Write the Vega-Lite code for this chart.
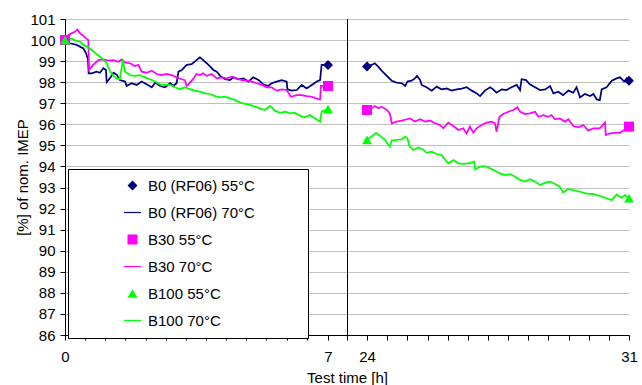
{
"$schema": "https://vega.github.io/schema/vega-lite/v6.json",
"width": 564, "height": 316,
"autosize": {"type": "none"},
"padding": {"left": 65, "top": 19, "right": 13, "bottom": 50},
"background": "white",
"config": {
  "font": "Liberation Sans",
  "view": {"stroke": null},
  "axis": {"labelColor": "black", "titleColor": "black", "domainColor": "black", "tickColor": "black", "labelFontSize": 15, "titleFontSize": 15, "titleFontWeight": "normal", "tickSize": 5, "domainWidth": 1, "tickWidth": 1}
},
"datasets": {
  "breaks": [{"t": 15.5, "v": 86, "v2": 101}],
  "markers": [
    {"series": "B0 (RF06) 55°C", "t": 0, "v": 100},
    {"series": "B0 (RF06) 55°C", "t": 7, "v": 98.82},
    {"series": "B0 (RF06) 55°C", "t": 24, "v": 98.74},
    {"series": "B0 (RF06) 55°C", "t": 31, "v": 98.07},
    {"series": "B30 55°C", "t": 0, "v": 100},
    {"series": "B30 55°C", "t": 7, "v": 97.82},
    {"series": "B30 55°C", "t": 24, "v": 96.68},
    {"series": "B30 55°C", "t": 31, "v": 95.89},
    {"series": "B100 55°C", "t": 0, "v": 100},
    {"series": "B100 55°C", "t": 7, "v": 96.72},
    {"series": "B100 55°C", "t": 24, "v": 95.26},
    {"series": "B100 55°C", "t": 31, "v": 92.49}
  ],
  "lines": [
    {"series":"B0 (RF06) 70°C","part":"a","t":0,"v":100},
    {"series":"B0 (RF06) 70°C","part":"a","t":0.13,"v":99.85},
    {"series":"B0 (RF06) 70°C","part":"a","t":0.31,"v":99.77},
    {"series":"B0 (RF06) 70°C","part":"a","t":0.49,"v":99.6},
    {"series":"B0 (RF06) 70°C","part":"a","t":0.56,"v":99.37},
    {"series":"B0 (RF06) 70°C","part":"a","t":0.61,"v":99.1},
    {"series":"B0 (RF06) 70°C","part":"a","t":0.63,"v":98.42},
    {"series":"B0 (RF06) 70°C","part":"a","t":0.71,"v":98.42},
    {"series":"B0 (RF06) 70°C","part":"a","t":0.84,"v":98.5},
    {"series":"B0 (RF06) 70°C","part":"a","t":0.93,"v":98.45},
    {"series":"B0 (RF06) 70°C","part":"a","t":1.02,"v":98.66},
    {"series":"B0 (RF06) 70°C","part":"a","t":1.09,"v":98.58},
    {"series":"B0 (RF06) 70°C","part":"a","t":1.11,"v":98.0},
    {"series":"B0 (RF06) 70°C","part":"a","t":1.2,"v":98.2},
    {"series":"B0 (RF06) 70°C","part":"a","t":1.29,"v":98.45},
    {"series":"B0 (RF06) 70°C","part":"a","t":1.38,"v":98.35},
    {"series":"B0 (RF06) 70°C","part":"a","t":1.46,"v":98.1},
    {"series":"B0 (RF06) 70°C","part":"a","t":1.6,"v":98.03},
    {"series":"B0 (RF06) 70°C","part":"a","t":1.64,"v":97.82},
    {"series":"B0 (RF06) 70°C","part":"a","t":1.77,"v":97.95},
    {"series":"B0 (RF06) 70°C","part":"a","t":1.91,"v":97.87},
    {"series":"B0 (RF06) 70°C","part":"a","t":2.04,"v":98.03},
    {"series":"B0 (RF06) 70°C","part":"a","t":2.17,"v":97.9},
    {"series":"B0 (RF06) 70°C","part":"a","t":2.31,"v":97.76},
    {"series":"B0 (RF06) 70°C","part":"a","t":2.4,"v":97.98},
    {"series":"B0 (RF06) 70°C","part":"a","t":2.53,"v":97.82},
    {"series":"B0 (RF06) 70°C","part":"a","t":2.66,"v":97.76},
    {"series":"B0 (RF06) 70°C","part":"a","t":2.8,"v":97.95},
    {"series":"B0 (RF06) 70°C","part":"a","t":2.88,"v":97.82},
    {"series":"B0 (RF06) 70°C","part":"a","t":2.97,"v":97.95},
    {"series":"B0 (RF06) 70°C","part":"a","t":3.02,"v":98.5},
    {"series":"B0 (RF06) 70°C","part":"a","t":3.11,"v":98.58},
    {"series":"B0 (RF06) 70°C","part":"a","t":3.24,"v":98.82},
    {"series":"B0 (RF06) 70°C","part":"a","t":3.37,"v":98.86},
    {"series":"B0 (RF06) 70°C","part":"a","t":3.5,"v":99.05},
    {"series":"B0 (RF06) 70°C","part":"a","t":3.59,"v":99.18},
    {"series":"B0 (RF06) 70°C","part":"a","t":3.68,"v":99.05},
    {"series":"B0 (RF06) 70°C","part":"a","t":3.82,"v":98.82},
    {"series":"B0 (RF06) 70°C","part":"a","t":3.95,"v":98.58},
    {"series":"B0 (RF06) 70°C","part":"a","t":4.04,"v":98.5},
    {"series":"B0 (RF06) 70°C","part":"a","t":4.13,"v":98.3},
    {"series":"B0 (RF06) 70°C","part":"a","t":4.26,"v":98.14},
    {"series":"B0 (RF06) 70°C","part":"a","t":4.39,"v":98.1},
    {"series":"B0 (RF06) 70°C","part":"a","t":4.48,"v":98.23},
    {"series":"B0 (RF06) 70°C","part":"a","t":4.61,"v":98.14},
    {"series":"B0 (RF06) 70°C","part":"a","t":4.75,"v":98.18},
    {"series":"B0 (RF06) 70°C","part":"a","t":4.88,"v":98.03},
    {"series":"B0 (RF06) 70°C","part":"a","t":5.01,"v":98.23},
    {"series":"B0 (RF06) 70°C","part":"a","t":5.15,"v":98.1},
    {"series":"B0 (RF06) 70°C","part":"a","t":5.28,"v":97.9},
    {"series":"B0 (RF06) 70°C","part":"a","t":5.41,"v":97.82},
    {"series":"B0 (RF06) 70°C","part":"a","t":5.5,"v":97.95},
    {"series":"B0 (RF06) 70°C","part":"a","t":5.63,"v":98.03},
    {"series":"B0 (RF06) 70°C","part":"a","t":5.77,"v":98.1},
    {"series":"B0 (RF06) 70°C","part":"a","t":5.9,"v":98.03},
    {"series":"B0 (RF06) 70°C","part":"a","t":5.92,"v":97.66},
    {"series":"B0 (RF06) 70°C","part":"a","t":6.03,"v":97.6},
    {"series":"B0 (RF06) 70°C","part":"a","t":6.17,"v":97.63},
    {"series":"B0 (RF06) 70°C","part":"a","t":6.3,"v":97.87},
    {"series":"B0 (RF06) 70°C","part":"a","t":6.43,"v":97.7},
    {"series":"B0 (RF06) 70°C","part":"a","t":6.57,"v":97.87},
    {"series":"B0 (RF06) 70°C","part":"a","t":6.7,"v":98.03},
    {"series":"B0 (RF06) 70°C","part":"a","t":6.79,"v":98.1},
    {"series":"B0 (RF06) 70°C","part":"a","t":6.83,"v":98.82},
    {"series":"B0 (RF06) 70°C","part":"a","t":7.0,"v":98.82},
    {"series":"B0 (RF06) 70°C","part":"b","t":24.0,"v":98.74},
    {"series":"B0 (RF06) 70°C","part":"b","t":24.12,"v":98.82},
    {"series":"B0 (RF06) 70°C","part":"b","t":24.21,"v":98.9},
    {"series":"B0 (RF06) 70°C","part":"b","t":24.3,"v":98.74},
    {"series":"B0 (RF06) 70°C","part":"b","t":24.39,"v":98.55},
    {"series":"B0 (RF06) 70°C","part":"b","t":24.53,"v":98.3},
    {"series":"B0 (RF06) 70°C","part":"b","t":24.66,"v":98.07},
    {"series":"B0 (RF06) 70°C","part":"b","t":24.79,"v":97.98},
    {"series":"B0 (RF06) 70°C","part":"b","t":24.93,"v":97.95},
    {"series":"B0 (RF06) 70°C","part":"b","t":25.02,"v":97.82},
    {"series":"B0 (RF06) 70°C","part":"b","t":25.08,"v":98.03},
    {"series":"B0 (RF06) 70°C","part":"b","t":25.19,"v":98.07},
    {"series":"B0 (RF06) 70°C","part":"b","t":25.28,"v":98.18},
    {"series":"B0 (RF06) 70°C","part":"b","t":25.34,"v":98.3},
    {"series":"B0 (RF06) 70°C","part":"b","t":25.42,"v":98.1},
    {"series":"B0 (RF06) 70°C","part":"b","t":25.46,"v":97.87},
    {"series":"B0 (RF06) 70°C","part":"b","t":25.59,"v":97.76},
    {"series":"B0 (RF06) 70°C","part":"b","t":25.73,"v":97.6},
    {"series":"B0 (RF06) 70°C","part":"b","t":25.86,"v":97.79},
    {"series":"B0 (RF06) 70°C","part":"b","t":25.99,"v":97.66},
    {"series":"B0 (RF06) 70°C","part":"b","t":26.13,"v":97.7},
    {"series":"B0 (RF06) 70°C","part":"b","t":26.26,"v":97.6},
    {"series":"B0 (RF06) 70°C","part":"b","t":26.4,"v":97.66},
    {"series":"B0 (RF06) 70°C","part":"b","t":26.53,"v":97.7},
    {"series":"B0 (RF06) 70°C","part":"b","t":26.66,"v":97.76},
    {"series":"B0 (RF06) 70°C","part":"b","t":26.8,"v":97.6},
    {"series":"B0 (RF06) 70°C","part":"b","t":26.93,"v":97.47},
    {"series":"B0 (RF06) 70°C","part":"b","t":27.02,"v":97.34},
    {"series":"B0 (RF06) 70°C","part":"b","t":27.15,"v":97.6},
    {"series":"B0 (RF06) 70°C","part":"b","t":27.29,"v":97.76},
    {"series":"B0 (RF06) 70°C","part":"b","t":27.37,"v":97.66},
    {"series":"B0 (RF06) 70°C","part":"b","t":27.46,"v":97.5},
    {"series":"B0 (RF06) 70°C","part":"b","t":27.6,"v":97.66},
    {"series":"B0 (RF06) 70°C","part":"b","t":27.73,"v":97.63},
    {"series":"B0 (RF06) 70°C","part":"b","t":27.86,"v":97.76},
    {"series":"B0 (RF06) 70°C","part":"b","t":28.0,"v":97.87},
    {"series":"B0 (RF06) 70°C","part":"b","t":28.09,"v":97.63},
    {"series":"B0 (RF06) 70°C","part":"b","t":28.13,"v":98.14},
    {"series":"B0 (RF06) 70°C","part":"b","t":28.25,"v":98.1},
    {"series":"B0 (RF06) 70°C","part":"b","t":28.35,"v":97.9},
    {"series":"B0 (RF06) 70°C","part":"b","t":28.49,"v":97.76},
    {"series":"B0 (RF06) 70°C","part":"b","t":28.62,"v":97.63},
    {"series":"B0 (RF06) 70°C","part":"b","t":28.76,"v":97.66},
    {"series":"B0 (RF06) 70°C","part":"b","t":28.89,"v":97.82},
    {"series":"B0 (RF06) 70°C","part":"b","t":28.98,"v":97.47},
    {"series":"B0 (RF06) 70°C","part":"b","t":29.11,"v":97.55},
    {"series":"B0 (RF06) 70°C","part":"b","t":29.24,"v":97.39},
    {"series":"B0 (RF06) 70°C","part":"b","t":29.38,"v":97.6},
    {"series":"B0 (RF06) 70°C","part":"b","t":29.51,"v":97.5},
    {"series":"B0 (RF06) 70°C","part":"b","t":29.6,"v":97.76},
    {"series":"B0 (RF06) 70°C","part":"b","t":29.69,"v":97.28},
    {"series":"B0 (RF06) 70°C","part":"b","t":29.82,"v":97.44},
    {"series":"B0 (RF06) 70°C","part":"b","t":29.96,"v":97.34},
    {"series":"B0 (RF06) 70°C","part":"b","t":30.05,"v":97.44},
    {"series":"B0 (RF06) 70°C","part":"b","t":30.14,"v":97.18},
    {"series":"B0 (RF06) 70°C","part":"b","t":30.22,"v":97.15},
    {"series":"B0 (RF06) 70°C","part":"b","t":30.27,"v":97.66},
    {"series":"B0 (RF06) 70°C","part":"b","t":30.4,"v":97.76},
    {"series":"B0 (RF06) 70°C","part":"b","t":30.54,"v":98.07},
    {"series":"B0 (RF06) 70°C","part":"b","t":30.67,"v":98.18},
    {"series":"B0 (RF06) 70°C","part":"b","t":30.76,"v":98.23},
    {"series":"B0 (RF06) 70°C","part":"b","t":30.87,"v":98.03},
    {"series":"B0 (RF06) 70°C","part":"b","t":30.94,"v":98.18},
    {"series":"B0 (RF06) 70°C","part":"b","t":31.0,"v":98.07},
    {"series":"B30 70°C","part":"a","t":0,"v":100},
    {"series":"B30 70°C","part":"a","t":0.09,"v":100.24},
    {"series":"B30 70°C","part":"a","t":0.18,"v":100.32},
    {"series":"B30 70°C","part":"a","t":0.27,"v":100.4},
    {"series":"B30 70°C","part":"a","t":0.33,"v":100.5},
    {"series":"B30 70°C","part":"a","t":0.4,"v":100.32},
    {"series":"B30 70°C","part":"a","t":0.49,"v":100.2},
    {"series":"B30 70°C","part":"a","t":0.56,"v":100.08},
    {"series":"B30 70°C","part":"a","t":0.62,"v":100.0},
    {"series":"B30 70°C","part":"a","t":0.64,"v":98.58},
    {"series":"B30 70°C","part":"a","t":0.75,"v":98.82},
    {"series":"B30 70°C","part":"a","t":0.89,"v":99.05},
    {"series":"B30 70°C","part":"a","t":1.02,"v":99.08},
    {"series":"B30 70°C","part":"a","t":1.15,"v":99.02},
    {"series":"B30 70°C","part":"a","t":1.29,"v":99.05},
    {"series":"B30 70°C","part":"a","t":1.42,"v":98.97},
    {"series":"B30 70°C","part":"a","t":1.51,"v":99.08},
    {"series":"B30 70°C","part":"a","t":1.6,"v":98.93},
    {"series":"B30 70°C","part":"a","t":1.73,"v":98.9},
    {"series":"B30 70°C","part":"a","t":1.86,"v":98.77},
    {"series":"B30 70°C","part":"a","t":1.95,"v":98.82},
    {"series":"B30 70°C","part":"a","t":2.04,"v":98.5},
    {"series":"B30 70°C","part":"a","t":2.17,"v":98.45},
    {"series":"B30 70°C","part":"a","t":2.31,"v":98.55},
    {"series":"B30 70°C","part":"a","t":2.44,"v":98.39},
    {"series":"B30 70°C","part":"a","t":2.57,"v":98.34},
    {"series":"B30 70°C","part":"a","t":2.71,"v":98.39},
    {"series":"B30 70°C","part":"a","t":2.84,"v":98.34},
    {"series":"B30 70°C","part":"a","t":2.97,"v":98.23},
    {"series":"B30 70°C","part":"a","t":3.11,"v":98.14},
    {"series":"B30 70°C","part":"a","t":3.19,"v":98.1},
    {"series":"B30 70°C","part":"a","t":3.24,"v":97.82},
    {"series":"B30 70°C","part":"a","t":3.33,"v":97.98},
    {"series":"B30 70°C","part":"a","t":3.42,"v":98.18},
    {"series":"B30 70°C","part":"a","t":3.5,"v":98.39},
    {"series":"B30 70°C","part":"a","t":3.59,"v":98.34},
    {"series":"B30 70°C","part":"a","t":3.68,"v":98.42},
    {"series":"B30 70°C","part":"a","t":3.77,"v":98.3},
    {"series":"B30 70°C","part":"a","t":3.9,"v":98.39},
    {"series":"B30 70°C","part":"a","t":4.04,"v":98.18},
    {"series":"B30 70°C","part":"a","t":4.17,"v":98.23},
    {"series":"B30 70°C","part":"a","t":4.3,"v":98.18},
    {"series":"B30 70°C","part":"a","t":4.44,"v":98.26},
    {"series":"B30 70°C","part":"a","t":4.57,"v":98.18},
    {"series":"B30 70°C","part":"a","t":4.7,"v":98.1},
    {"series":"B30 70°C","part":"a","t":4.84,"v":98.07},
    {"series":"B30 70°C","part":"a","t":4.97,"v":98.03},
    {"series":"B30 70°C","part":"a","t":5.1,"v":97.95},
    {"series":"B30 70°C","part":"a","t":5.24,"v":97.87},
    {"series":"B30 70°C","part":"a","t":5.37,"v":97.76},
    {"series":"B30 70°C","part":"a","t":5.5,"v":97.76},
    {"series":"B30 70°C","part":"a","t":5.63,"v":97.6},
    {"series":"B30 70°C","part":"a","t":5.77,"v":97.66},
    {"series":"B30 70°C","part":"a","t":5.9,"v":97.63},
    {"series":"B30 70°C","part":"a","t":6.01,"v":97.31},
    {"series":"B30 70°C","part":"a","t":6.17,"v":97.39},
    {"series":"B30 70°C","part":"a","t":6.3,"v":97.39},
    {"series":"B30 70°C","part":"a","t":6.43,"v":97.34},
    {"series":"B30 70°C","part":"a","t":6.57,"v":97.31},
    {"series":"B30 70°C","part":"a","t":6.68,"v":97.23},
    {"series":"B30 70°C","part":"a","t":6.79,"v":97.18},
    {"series":"B30 70°C","part":"a","t":6.81,"v":97.82},
    {"series":"B30 70°C","part":"a","t":7.0,"v":97.82},
    {"series":"B30 70°C","part":"b","t":24.0,"v":96.68},
    {"series":"B30 70°C","part":"b","t":24.12,"v":96.76},
    {"series":"B30 70°C","part":"b","t":24.21,"v":96.87},
    {"series":"B30 70°C","part":"b","t":24.3,"v":96.76},
    {"series":"B30 70°C","part":"b","t":24.39,"v":96.84},
    {"series":"B30 70°C","part":"b","t":24.53,"v":96.68},
    {"series":"B30 70°C","part":"b","t":24.61,"v":96.52},
    {"series":"B30 70°C","part":"b","t":24.66,"v":96.05},
    {"series":"B30 70°C","part":"b","t":24.79,"v":96.13},
    {"series":"B30 70°C","part":"b","t":24.93,"v":96.18},
    {"series":"B30 70°C","part":"b","t":25.06,"v":96.24},
    {"series":"B30 70°C","part":"b","t":25.15,"v":96.28},
    {"series":"B30 70°C","part":"b","t":25.28,"v":96.13},
    {"series":"B30 70°C","part":"b","t":25.42,"v":96.24},
    {"series":"B30 70°C","part":"b","t":25.55,"v":96.13},
    {"series":"B30 70°C","part":"b","t":25.68,"v":96.18},
    {"series":"B30 70°C","part":"b","t":25.82,"v":96.05},
    {"series":"B30 70°C","part":"b","t":25.95,"v":95.97},
    {"series":"B30 70°C","part":"b","t":26.04,"v":95.81},
    {"series":"B30 70°C","part":"b","t":26.17,"v":96.08},
    {"series":"B30 70°C","part":"b","t":26.31,"v":95.92},
    {"series":"B30 70°C","part":"b","t":26.44,"v":95.73},
    {"series":"B30 70°C","part":"b","t":26.57,"v":95.81},
    {"series":"B30 70°C","part":"b","t":26.66,"v":95.57},
    {"series":"B30 70°C","part":"b","t":26.75,"v":95.89},
    {"series":"B30 70°C","part":"b","t":26.84,"v":95.6},
    {"series":"B30 70°C","part":"b","t":26.93,"v":95.81},
    {"series":"B30 70°C","part":"b","t":27.06,"v":95.97},
    {"series":"B30 70°C","part":"b","t":27.2,"v":96.08},
    {"series":"B30 70°C","part":"b","t":27.33,"v":96.13},
    {"series":"B30 70°C","part":"b","t":27.42,"v":96.05},
    {"series":"B30 70°C","part":"b","t":27.46,"v":95.65},
    {"series":"B30 70°C","part":"b","t":27.54,"v":96.36},
    {"series":"B30 70°C","part":"b","t":27.64,"v":96.49},
    {"series":"B30 70°C","part":"b","t":27.78,"v":96.6},
    {"series":"B30 70°C","part":"b","t":27.91,"v":96.68},
    {"series":"B30 70°C","part":"b","t":28.02,"v":96.81},
    {"series":"B30 70°C","part":"b","t":28.09,"v":96.6},
    {"series":"B30 70°C","part":"b","t":28.22,"v":96.49},
    {"series":"B30 70°C","part":"b","t":28.35,"v":96.52},
    {"series":"B30 70°C","part":"b","t":28.49,"v":96.6},
    {"series":"B30 70°C","part":"b","t":28.58,"v":96.36},
    {"series":"B30 70°C","part":"b","t":28.71,"v":96.44},
    {"series":"B30 70°C","part":"b","t":28.84,"v":96.36},
    {"series":"B30 70°C","part":"b","t":28.93,"v":96.44},
    {"series":"B30 70°C","part":"b","t":29.02,"v":96.24},
    {"series":"B30 70°C","part":"b","t":29.15,"v":96.28},
    {"series":"B30 70°C","part":"b","t":29.29,"v":96.13},
    {"series":"B30 70°C","part":"b","t":29.38,"v":96.24},
    {"series":"B30 70°C","part":"b","t":29.51,"v":95.92},
    {"series":"B30 70°C","part":"b","t":29.65,"v":95.86},
    {"series":"B30 70°C","part":"b","t":29.78,"v":95.97},
    {"series":"B30 70°C","part":"b","t":29.91,"v":95.7},
    {"series":"B30 70°C","part":"b","t":30.05,"v":95.81},
    {"series":"B30 70°C","part":"b","t":30.22,"v":95.81},
    {"series":"B30 70°C","part":"b","t":30.36,"v":96.08},
    {"series":"B30 70°C","part":"b","t":30.38,"v":95.49},
    {"series":"B30 70°C","part":"b","t":30.49,"v":95.57},
    {"series":"B30 70°C","part":"b","t":30.62,"v":95.6},
    {"series":"B30 70°C","part":"b","t":30.76,"v":95.6},
    {"series":"B30 70°C","part":"b","t":30.87,"v":95.73},
    {"series":"B30 70°C","part":"b","t":31.0,"v":95.89},
    {"series":"B100 70°C","part":"a","t":0,"v":100},
    {"series":"B100 70°C","part":"a","t":0.09,"v":100.03},
    {"series":"B100 70°C","part":"a","t":0.18,"v":100.08},
    {"series":"B100 70°C","part":"a","t":0.29,"v":99.97},
    {"series":"B100 70°C","part":"a","t":0.4,"v":99.92},
    {"series":"B100 70°C","part":"a","t":0.49,"v":99.77},
    {"series":"B100 70°C","part":"a","t":0.59,"v":99.69},
    {"series":"B100 70°C","part":"a","t":0.71,"v":99.53},
    {"series":"B100 70°C","part":"a","t":0.84,"v":99.34},
    {"series":"B100 70°C","part":"a","t":0.98,"v":99.13},
    {"series":"B100 70°C","part":"a","t":1.11,"v":98.9},
    {"series":"B100 70°C","part":"a","t":1.2,"v":98.5},
    {"series":"B100 70°C","part":"a","t":1.29,"v":98.3},
    {"series":"B100 70°C","part":"a","t":1.38,"v":98.18},
    {"series":"B100 70°C","part":"a","t":1.46,"v":98.14},
    {"series":"B100 70°C","part":"a","t":1.54,"v":99.05},
    {"series":"B100 70°C","part":"a","t":1.6,"v":98.5},
    {"series":"B100 70°C","part":"a","t":1.73,"v":98.34},
    {"series":"B100 70°C","part":"a","t":1.86,"v":98.3},
    {"series":"B100 70°C","part":"a","t":2.0,"v":98.34},
    {"series":"B100 70°C","part":"a","t":2.13,"v":98.23},
    {"series":"B100 70°C","part":"a","t":2.26,"v":98.14},
    {"series":"B100 70°C","part":"a","t":2.4,"v":98.03},
    {"series":"B100 70°C","part":"a","t":2.53,"v":97.9},
    {"series":"B100 70°C","part":"a","t":2.66,"v":97.87},
    {"series":"B100 70°C","part":"a","t":2.8,"v":97.87},
    {"series":"B100 70°C","part":"a","t":2.93,"v":97.76},
    {"series":"B100 70°C","part":"a","t":3.06,"v":97.66},
    {"series":"B100 70°C","part":"a","t":3.19,"v":97.76},
    {"series":"B100 70°C","part":"a","t":3.33,"v":97.66},
    {"series":"B100 70°C","part":"a","t":3.46,"v":97.6},
    {"series":"B100 70°C","part":"a","t":3.59,"v":97.55},
    {"series":"B100 70°C","part":"a","t":3.73,"v":97.47},
    {"series":"B100 70°C","part":"a","t":3.86,"v":97.44},
    {"series":"B100 70°C","part":"a","t":3.99,"v":97.34},
    {"series":"B100 70°C","part":"a","t":4.13,"v":97.28},
    {"series":"B100 70°C","part":"a","t":4.26,"v":97.31},
    {"series":"B100 70°C","part":"a","t":4.39,"v":97.23},
    {"series":"B100 70°C","part":"a","t":4.53,"v":97.15},
    {"series":"B100 70°C","part":"a","t":4.66,"v":97.03},
    {"series":"B100 70°C","part":"a","t":4.79,"v":96.97},
    {"series":"B100 70°C","part":"a","t":4.92,"v":96.92},
    {"series":"B100 70°C","part":"a","t":5.06,"v":96.84},
    {"series":"B100 70°C","part":"a","t":5.19,"v":96.76},
    {"series":"B100 70°C","part":"a","t":5.32,"v":96.68},
    {"series":"B100 70°C","part":"a","t":5.46,"v":96.87},
    {"series":"B100 70°C","part":"a","t":5.59,"v":96.65},
    {"series":"B100 70°C","part":"a","t":5.72,"v":96.55},
    {"series":"B100 70°C","part":"a","t":5.86,"v":96.6},
    {"series":"B100 70°C","part":"a","t":5.99,"v":96.52},
    {"series":"B100 70°C","part":"a","t":6.12,"v":96.55},
    {"series":"B100 70°C","part":"a","t":6.26,"v":96.4},
    {"series":"B100 70°C","part":"a","t":6.39,"v":96.33},
    {"series":"B100 70°C","part":"a","t":6.52,"v":96.44},
    {"series":"B100 70°C","part":"a","t":6.65,"v":96.28},
    {"series":"B100 70°C","part":"a","t":6.79,"v":96.13},
    {"series":"B100 70°C","part":"a","t":6.83,"v":96.6},
    {"series":"B100 70°C","part":"a","t":7.0,"v":96.72},
    {"series":"B100 70°C","part":"b","t":24.0,"v":95.26},
    {"series":"B100 70°C","part":"b","t":24.12,"v":95.42},
    {"series":"B100 70°C","part":"b","t":24.24,"v":95.6},
    {"series":"B100 70°C","part":"b","t":24.35,"v":95.45},
    {"series":"B100 70°C","part":"b","t":24.48,"v":95.26},
    {"series":"B100 70°C","part":"b","t":24.61,"v":94.94},
    {"series":"B100 70°C","part":"b","t":24.66,"v":95.23},
    {"series":"B100 70°C","part":"b","t":24.79,"v":95.26},
    {"series":"B100 70°C","part":"b","t":24.93,"v":95.29},
    {"series":"B100 70°C","part":"b","t":25.02,"v":95.42},
    {"series":"B100 70°C","part":"b","t":25.08,"v":95.34},
    {"series":"B100 70°C","part":"b","t":25.13,"v":94.97},
    {"series":"B100 70°C","part":"b","t":25.24,"v":94.78},
    {"series":"B100 70°C","part":"b","t":25.37,"v":94.9},
    {"series":"B100 70°C","part":"b","t":25.5,"v":94.81},
    {"series":"B100 70°C","part":"b","t":25.59,"v":94.65},
    {"series":"B100 70°C","part":"b","t":25.73,"v":94.7},
    {"series":"B100 70°C","part":"b","t":25.86,"v":94.59},
    {"series":"B100 70°C","part":"b","t":25.99,"v":94.54},
    {"series":"B100 70°C","part":"b","t":26.08,"v":94.34},
    {"series":"B100 70°C","part":"b","t":26.17,"v":94.15},
    {"series":"B100 70°C","part":"b","t":26.31,"v":94.3},
    {"series":"B100 70°C","part":"b","t":26.44,"v":94.15},
    {"series":"B100 70°C","part":"b","t":26.57,"v":94.12},
    {"series":"B100 70°C","part":"b","t":26.71,"v":94.15},
    {"series":"B100 70°C","part":"b","t":26.86,"v":94.23},
    {"series":"B100 70°C","part":"b","t":26.89,"v":93.86},
    {"series":"B100 70°C","part":"b","t":27.02,"v":93.99},
    {"series":"B100 70°C","part":"b","t":27.15,"v":94.02},
    {"series":"B100 70°C","part":"b","t":27.29,"v":93.91},
    {"series":"B100 70°C","part":"b","t":27.42,"v":93.8},
    {"series":"B100 70°C","part":"b","t":27.55,"v":93.67},
    {"series":"B100 70°C","part":"b","t":27.69,"v":93.59},
    {"series":"B100 70°C","part":"b","t":27.82,"v":93.64},
    {"series":"B100 70°C","part":"b","t":27.95,"v":93.52},
    {"series":"B100 70°C","part":"b","t":28.09,"v":93.36},
    {"series":"B100 70°C","part":"b","t":28.22,"v":93.28},
    {"series":"B100 70°C","part":"b","t":28.35,"v":93.39},
    {"series":"B100 70°C","part":"b","t":28.49,"v":93.28},
    {"series":"B100 70°C","part":"b","t":28.62,"v":93.12},
    {"series":"B100 70°C","part":"b","t":28.76,"v":93.23},
    {"series":"B100 70°C","part":"b","t":28.89,"v":93.28},
    {"series":"B100 70°C","part":"b","t":29.02,"v":93.17},
    {"series":"B100 70°C","part":"b","t":29.15,"v":93.04},
    {"series":"B100 70°C","part":"b","t":29.24,"v":92.76},
    {"series":"B100 70°C","part":"b","t":29.38,"v":92.93},
    {"series":"B100 70°C","part":"b","t":29.51,"v":92.88},
    {"series":"B100 70°C","part":"b","t":29.69,"v":92.8},
    {"series":"B100 70°C","part":"b","t":29.87,"v":92.71},
    {"series":"B100 70°C","part":"b","t":30.05,"v":92.69},
    {"series":"B100 70°C","part":"b","t":30.22,"v":92.6},
    {"series":"B100 70°C","part":"b","t":30.4,"v":92.49},
    {"series":"B100 70°C","part":"b","t":30.54,"v":92.4},
    {"series":"B100 70°C","part":"b","t":30.67,"v":92.67},
    {"series":"B100 70°C","part":"b","t":30.8,"v":92.51},
    {"series":"B100 70°C","part":"b","t":30.89,"v":92.64},
    {"series":"B100 70°C","part":"b","t":31.0,"v":92.49}
  ]
},
"encoding": {
  "x": {"field": "t", "type": "quantitative",
    "scale": {"domain": [0, 7, 24, 31], "range": [0, 263, 302, 564]},
    "axis": {"title": "Test time [h]", "grid": false, "labelFlush": false, "labelOverlap": false, "labelPadding": 9, "titlePadding": 6,
      "values": [0,0.536,1.072,1.608,2.144,2.681,3.217,3.753,4.289,4.825,5.361,5.897,6.433,7,15.28,24,24.542,25.08,25.618,26.156,26.694,27.233,27.771,28.309,28.847,29.385,29.923,30.462,31],
      "labelExpr": "indexof([0,7,24,31], datum.value) >= 0 ? '' + datum.value : ''"}},
  "y": {"field": "v", "type": "quantitative",
    "scale": {"domain": [86, 101], "nice": false, "zero": false},
    "axis": {"title": "[%] of nom. IMEP", "grid": true, "gridColor": "#c0c0c0", "gridWidth": 1, "labelPadding": 5,
      "values": [86,87,88,89,90,91,92,93,94,95,96,97,98,99,100,101],
      "titleX": -43, "titleY": 158, "titleBaseline": "middle", "titleAlign": "center"}}
},
"layer": [
  {"data": {"name": "breaks"},
   "mark": {"type": "rule", "color": "black", "strokeWidth": 1},
   "encoding": {"y2": {"field": "v2"}}},
  {"data": {"name": "lines"},
   "mark": {"type": "line", "strokeWidth": 1.75},
   "encoding": {
     "stroke": {"field": "series", "type": "nominal",
       "scale": {"domain": ["B0 (RF06) 70°C", "B30 70°C", "B100 70°C"], "range": ["#000080", "#ff00ff", "#00ff00"]},
       "legend": null},
     "detail": {"field": "part"}}},
  {"data": {"name": "markers"},
   "mark": {"type": "point", "filled": true, "size": 100, "opacity": 1, "strokeWidth": 0},
   "encoding": {
     "fill": {"field": "series", "type": "nominal",
       "scale": {"domain": ["B0 (RF06) 55°C", "B0 (RF06) 70°C", "B30 55°C", "B30 70°C", "B100 55°C", "B100 70°C"],
                 "range": ["#000080", "#000080", "#ff00ff", "#ff00ff", "#00ff00", "#00ff00"]},
       "legend": {"title": null, "orient": "none", "legendX": 3, "legendY": 150, "direction": "vertical", "padding": 9, "symbolOffset": 48, "labelOffset": 8, "rowPadding": 11, "labelFontSize": 15, "labelColor": "black", "strokeColor": "black", "fillColor": "white", "labelLimit": 300, "symbolStrokeWidth": 0,
         "labelExpr": "datum.label + '\u2800\u2800\u2800\u2800'"}},
     "shape": {"field": "series", "type": "nominal",
       "scale": {"domain": ["B0 (RF06) 55°C", "B0 (RF06) 70°C", "B30 55°C", "B30 70°C", "B100 55°C", "B100 70°C"],
                 "range": ["diamond", "M-1.7,-0.12H1.7V0.12H-1.7Z", "square", "M-1.7,-0.12H1.7V0.12H-1.7Z", "triangle-up", "M-1.7,-0.12H1.7V0.12H-1.7Z"]},
       "legend": {"title": null, "orient": "none", "legendX": 3, "legendY": 150, "direction": "vertical", "padding": 9, "symbolOffset": 48, "labelOffset": 8, "rowPadding": 11, "labelFontSize": 15, "labelColor": "black", "strokeColor": "black", "fillColor": "white", "labelLimit": 300, "symbolStrokeWidth": 0,
         "labelExpr": "datum.label + '\u2800\u2800\u2800\u2800'"}}}}
]
}
